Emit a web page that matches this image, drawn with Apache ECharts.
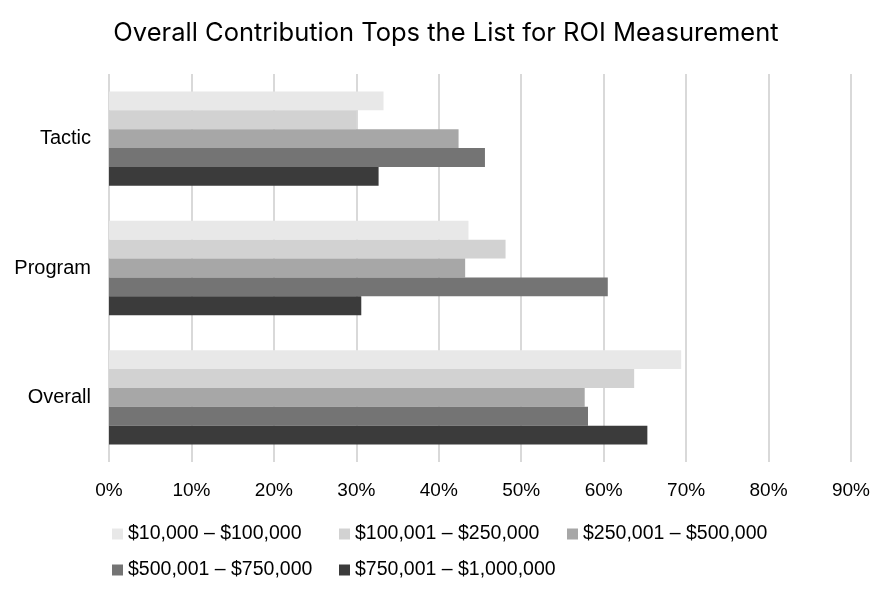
<!DOCTYPE html>
<html>
<head>
<meta charset="utf-8">
<script src="https://cdn.jsdelivr.net/npm/echarts@6/dist/echarts.min.js"></script>
<style>
html, body { margin: 0; padding: 0; background: #fff; }
#chart { width: 892px; height: 598px; }
</style>
</head>
<body>
<div id="chart"></div>
<script>
var categories = ['Tactic', 'Program', 'Overall'];
var seriesNames = ['$10,000 – $100,000', '$100,001 – $250,000', '$250,001 – $500,000', '$500,001 – $750,000', '$750,001 – $1,000,000'];
var tier1 = [33.3, 43.6, 69.4];
var tier2 = [30.0, 48.1, 63.7];
var tier3 = [42.4, 43.2, 57.7];
var tier4 = [45.6, 60.5, 58.1];
var tier5 = [32.7, 30.6, 65.3];
var tickLabels = ['0%', '10%', '20%', '30%', '40%', '50%', '60%', '70%', '80%', '90%'];

var colors = ['#e8e8e8', '#d2d2d2', '#a7a7a7', '#747474', '#3b3b3b'];
var values = [tier1, tier2, tier3, tier4, tier5];
var font = 'Liberation Sans';

var chart = echarts.init(document.getElementById('chart'));

// one legend per item so the two rows line up like the original
var legends = [
    { name: seriesNames[0], left: 112, top: 524 },
    { name: seriesNames[1], left: 339, top: 524 },
    { name: seriesNames[2], left: 567, top: 524 },
    { name: seriesNames[3], left: 112, top: 560 },
    { name: seriesNames[4], left: 339, top: 560 }
].map(function (l) {
    return {
        data: [l.name],
        left: l.left,
        top: l.top,
        icon: 'rect',
        itemWidth: 11,
        itemHeight: 11,
        itemGap: 2,
        padding: 0,
        textStyle: { fontFamily: font, fontSize: 19.5, color: '#000' }
    };
});

chart.setOption({
    animation: false,
    title: {
        text: 'Overall Contribution Tops the List for ROI Measurement',
        left: 'center',
        top: 15,
        textStyle: { fontFamily: 'Inter', fontSize: 25.5, fontWeight: 'normal', color: '#000' }
    },
    legend: legends,
    grid: { left: 109, right: 41, top: 74, bottom: 136 },
    xAxis: {
        type: 'value',
        min: 0,
        max: 90,
        interval: 10,
        axisLine: { show: false },
        axisTick: { show: false },
        splitLine: { lineStyle: { color: '#d9d9d9', width: 2 } },
        axisLabel: {
            margin: 19,
            fontFamily: font,
            fontSize: 19,
            color: '#000',
            formatter: function (v) { return tickLabels[Math.round(v / 10)]; }
        }
    },
    yAxis: {
        type: 'category',
        data: categories,
        inverse: true,
        axisLine: { show: false },
        axisTick: { show: false },
        axisLabel: { margin: 18, fontFamily: font, fontSize: 20, color: '#000' }
    },
    series: seriesNames.map(function (n, i) {
        return {
            name: n,
            type: 'bar',
            data: values[i],
            barGap: '0%',
            barCategoryGap: '27%',
            itemStyle: { color: colors[i] }
        };
    })
});
</script>
</body>
</html>
